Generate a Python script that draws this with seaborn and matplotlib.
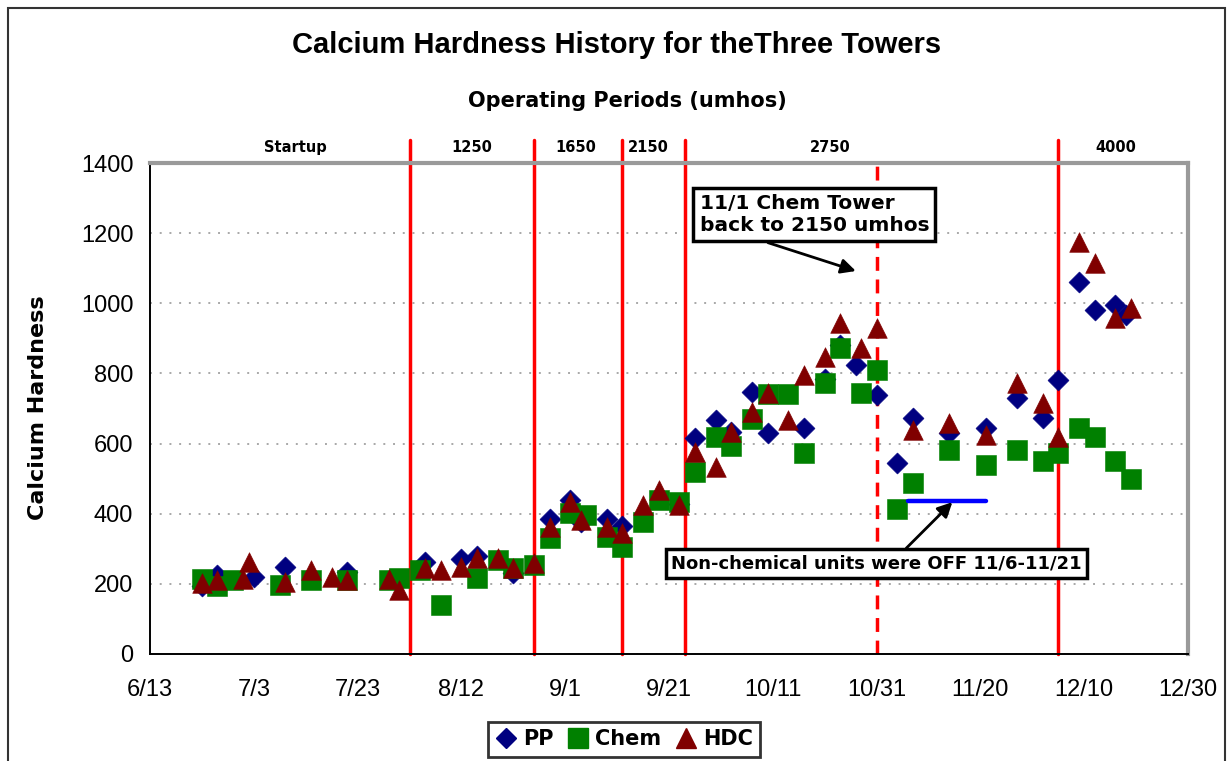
"""Calcium hardness history for the three cooling towers (PP, Chem, HDC)."""
import matplotlib
matplotlib.use("Agg")
import matplotlib.pyplot as plt
import matplotlib.dates as mdates
import matplotlib.transforms as mtransforms
from matplotlib.lines import Line2D
from matplotlib.patches import Rectangle
import pandas as pd
import seaborn as sns

YEAR = 2002

PP_DATES = ["6/23", "6/26", "7/3", "7/9", "7/21", "8/5", "8/12", "8/15", "8/22", "8/29",
            "9/2", "9/4", "9/9", "9/12", "9/23", "9/26", "9/30", "10/3", "10/7", "10/10",
            "10/17", "10/21", "10/24", "10/27", "10/31", "11/4", "11/7", "11/14", "11/21", "11/27",
            "12/2", "12/5", "12/9", "12/12", "12/16", "12/18"]
PP_VALUES = [195, 225, 220, 248, 234, 262, 270, 280, 232, 385,
             440, 376, 385, 365, 428, 617, 667, 633, 747, 630,
             644, 785, 880, 824, 739, 544, 673, 630, 644, 730,
             673, 781, 1061, 981, 995, 967]

CHEM_DATES = ["6/23", "6/26", "6/29", "7/8", "7/14", "7/21", "7/29", "7/31", "8/4", "8/8",
              "8/15", "8/19", "8/22", "8/26", "8/29", "9/2", "9/5", "9/9", "9/12", "9/16",
              "9/19", "9/23", "9/26", "9/30", "10/3", "10/7", "10/10", "10/14", "10/17", "10/21",
              "10/24", "10/28", "10/31", "11/4", "11/7", "11/14", "11/21", "11/27", "12/2", "12/5",
              "12/9", "12/12", "12/16", "12/19"]
CHEM_VALUES = [214, 194, 211, 197, 211, 211, 211, 216, 240, 140,
               216, 268, 245, 254, 330, 402, 396, 334, 305, 376,
               439, 433, 519, 619, 593, 670, 741, 741, 573, 773,
               872, 744, 810, 413, 488, 582, 539, 582, 550, 573,
               644, 619, 550, 499]

HDC_DATES = ["6/23", "6/26", "7/1", "7/2", "7/9", "7/14", "7/18", "7/21", "7/29", "7/31",
             "8/5", "8/8", "8/12", "8/15", "8/19", "8/22", "8/26", "8/29", "9/2", "9/4",
             "9/9", "9/12", "9/16", "9/19", "9/23", "9/26", "9/30", "10/3", "10/7", "10/10",
             "10/14", "10/17", "10/21", "10/24", "10/28", "10/31", "11/7", "11/14", "11/21", "11/27",
             "12/2", "12/5", "12/9", "12/12", "12/16", "12/19"]
HDC_VALUES = [202, 211, 215, 262, 205, 240, 220, 211, 214, 182,
              245, 240, 248, 274, 274, 245, 260, 362, 433, 382,
              362, 345, 425, 468, 425, 576, 533, 633, 690, 744,
              667, 796, 847, 944, 872, 930, 639, 659, 624, 773,
              716, 619, 1175, 1115, 958, 987]

PERIOD_CHANGES = ["8/2", "8/26", "9/12", "9/24", "12/5"]
CHEM_SWITCH = "10/31"
PERIOD_NAMES = ["Startup", "1250", "1650", "2150", "2750", "4000"]
PERIOD_LABEL_AT = ["7/11", "8/14", "9/3", "9/17", "10/22", "12/16"]
OFF_START, OFF_END, OFF_LEVEL = "11/6", "11/21", 436
X_TICKS = ["6/13", "7/3", "7/23", "8/12", "9/1", "9/21", "10/11", "10/31", "11/20", "12/10", "12/30"]

SERIES = ["PP", "Chem", "HDC"]
STYLE = {"PP": ("D", "#000080", 115), "Chem": ("s", "#008000", 200), "HDC": ("^", "#800000", 200)}


def day(s):
    m, d = s.split("/")
    return pd.Timestamp(YEAR, int(m), int(d))


def num(s):
    return mdates.date2num(day(s))


df = pd.concat([
    pd.DataFrame({"Date": [day(s) for s in d], "Hardness": v, "Tower": name})
    for name, d, v in [("PP", PP_DATES, PP_VALUES), ("Chem", CHEM_DATES, CHEM_VALUES),
                       ("HDC", HDC_DATES, HDC_VALUES)]
], ignore_index=True)

sns.set_theme(style="white")
plt.rcParams.update({
    "font.family": ["Liberation Sans", "DejaVu Sans"],
    "text.color": "black", "axes.labelcolor": "black",
    "xtick.color": "black", "ytick.color": "black",
})
BOLD = dict(family="DejaVu Sans", fontweight="bold", color="black")

fig = plt.figure(figsize=(12.31, 7.61), dpi=100)
ax = fig.add_axes([150 / 1231, 1 - 654 / 761, 1038 / 1231, 491 / 761])

for z, name in enumerate(SERIES):
    m, c, s = STYLE[name]
    sns.scatterplot(data=df[df.Tower == name], x="Date", y="Hardness", marker=m, color=c,
                    s=s, edgecolor=c, linewidth=0.4, ax=ax, zorder=3 + z, legend=False)

ax.set_xlim(num(X_TICKS[0]), num(X_TICKS[-1]))
ax.set_ylim(0, 1400)
ax.set_xticks([num(t) for t in X_TICKS], labels=X_TICKS)
ax.set_xticks(mdates.date2num(pd.date_range(day(X_TICKS[0]), day(X_TICKS[-1]), freq="4D")), minor=True)
ax.set_yticks(range(0, 1401, 200))
ax.set_yticks(range(0, 1401, 40), minor=True)
ax.tick_params(which="major", direction="inout", length=12, width=1.3, colors="black",
               labelsize=17, pad=6)
ax.tick_params(which="minor", direction="in", length=6, width=1.1, colors="black")
ax.tick_params(axis="x", which="major", pad=12)
ax.set_xlabel("")
ax.set_ylabel("")
ax.grid(axis="y", which="major", color="#a8a8a8", ls=(0, (1, 4)), lw=1.4)
for side in ["left", "bottom"]:
    ax.spines[side].set_color("black")
    ax.spines[side].set_linewidth(1.4)
for side in ["top", "right"]:
    ax.spines[side].set_color("#9a9a9a")
    ax.spines[side].set_linewidth(3)

# operating period boundaries
for d in PERIOD_CHANGES:
    ax.axvline(num(d), ymin=0, ymax=1.047, color="red", lw=2.5, clip_on=False, zorder=2)
ax.axvline(num(CHEM_SWITCH), color="red", lw=2.5, ls=(0, (4, 2.5)), zorder=2)
trans = mtransforms.blended_transform_factory(ax.transData, ax.transAxes)
for name, d in zip(PERIOD_NAMES, PERIOD_LABEL_AT):
    ax.text(num(d), 1.031, name, transform=trans, ha="center", va="center", fontsize=10.5, **BOLD)

# non-chemical units off
ax.plot([num(OFF_START), num(OFF_END)], [OFF_LEVEL, OFF_LEVEL], color="#0000ff", lw=3.2, zorder=6)

box = dict(boxstyle="square,pad=0.3", fc="white", ec="black", lw=2.5)
arrow = dict(arrowstyle="-|>", color="black", lw=2, mutation_scale=22, shrinkA=0, shrinkB=0)
ax.annotate("11/1 Chem Tower\nback to 2150 umhos", xy=(num("10/27"), 1092),
            xytext=(num("10/19"), 1252), ha="center", va="center", multialignment="left",
            fontsize=14.5, bbox=box, arrowprops=dict(arrow, relpos=(0.2, 0)), zorder=7, **BOLD)
ax.annotate("Non-chemical units were OFF 11/6-11/21", xy=(num("11/14") + 0.6, 433),
            xytext=(num("10/31"), 257), ha="center", va="center", fontsize=13, bbox=box,
            arrowprops=dict(arrow, relpos=(0.556, 1)), zorder=7, **BOLD)

fig.text(0.501, 0.941, "Calcium Hardness History for theThree Towers", ha="center", va="center",
         fontsize=21, fontweight="bold", color="black")
fig.text(0.51, 0.867, "Operating Periods (umhos)", ha="center", va="center", fontsize=15, **BOLD)
fig.text(0.031, 1 - 408 / 761, "Calcium Hardness", rotation=90, ha="center", va="center",
         fontsize=16, **BOLD)

handles = [Line2D([], [], ls="none", marker=STYLE[n][0], color=STYLE[n][1],
                  markersize={"PP": 10, "Chem": 14, "HDC": 14}[n]) for n in SERIES]
leg = fig.legend(handles, SERIES, loc="upper center", bbox_to_anchor=(0.507, 1 - 722 / 761),
                 ncol=3, frameon=True, fancybox=False, edgecolor="black", handlelength=1.0,
                 handletextpad=0.3, columnspacing=0.7, borderpad=0.35, borderaxespad=0,
                 prop=dict(family="DejaVu Sans", weight="bold", size=15))
leg.get_frame().set_linewidth(2)
for t in leg.get_texts():
    t.set_color("black")

fig.patches.append(Rectangle((8 / 1231, -0.05), (1225 - 8) / 1231, 1.05 - 8 / 761,
                             transform=fig.transFigure, fill=False, ec="#333333", lw=1.5))

fig.savefig("out.png", dpi=100)
